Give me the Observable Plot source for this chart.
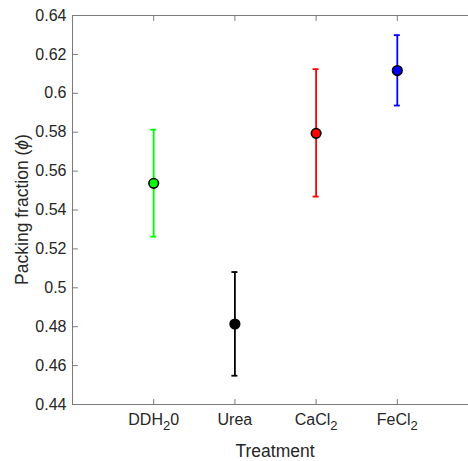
<!DOCTYPE html>
<html><head><meta charset="utf-8">
<script src="https://cdn.jsdelivr.net/npm/d3@7"></script>
<script src="https://cdn.jsdelivr.net/npm/@observablehq/plot@0.6"></script>
<style>
body{margin:0;background:#fff}
#chart{width:468px;height:461px;overflow:hidden}
#chart svg{overflow:hidden;display:block;max-width:none}
</style>
</head><body><div id="chart"></div>
<script>
// Data
const treatments = ["DDH20", "Urea", "CaCl2", "FeCl2"];
const labelBase = ["DDH", "Urea", "CaCl", "FeCl"];
const labelSub  = ["2", "", "2", "2"];
const labelTail = ["0", "", "", ""];
const means  = [0.5537, 0.4814, 0.5794, 0.6117];
const lower  = [0.5263, 0.4548, 0.5469, 0.5937];
const upper  = [0.5813, 0.5081, 0.6124, 0.6299];
const colors = ["#00ff00", "#000000", "#ff0000", "#0000ff"];
const yTicks = [0.44, 0.46, 0.48, 0.5, 0.52, 0.54, 0.56, 0.58, 0.6, 0.62, 0.64];
const yTickLabels = ["0.44","0.46","0.48","0.5","0.52","0.54","0.56","0.58","0.6","0.62","0.64"];

const data = treatments.map((t, i) => ({t, mean: means[i], lo: lower[i], hi: upper[i], color: colors[i]}));
const axisColor = "#7a7a7a";
const textColor = "#262626";
const tickShape = {draw(context, l) { context.moveTo(0, 0); context.lineTo(0, -l); }};

const plot = Plot.plot({
  width: 478, height: 461,
  marginLeft: 72, marginRight: 0, marginTop: 15, marginBottom: 57,
  style: {fontFamily: "'Liberation Sans', Arial, sans-serif", fontSize: "16px", color: textColor, background: "#fff"},
  x: {type: "band", domain: treatments, round: false, paddingInner: 0.926, paddingOuter: 0.963, label: null},
  y: {domain: [0.44, 0.64], label: null},
  marks: [
    Plot.frame({anchor: "left", stroke: axisColor, strokeWidth: 1}),
    Plot.frame({anchor: "top", stroke: axisColor, strokeWidth: 1}),
    Plot.frame({anchor: "bottom", stroke: axisColor, strokeWidth: 1}),
    // inward ticks
    Plot.vector(yTicks, {y: d => d, frameAnchor: "left", length: 5, rotate: 90, anchor: "start", shape: tickShape, stroke: axisColor, strokeWidth: 1}),
    Plot.vector(treatments, {x: d => d, frameAnchor: "bottom", length: 5, rotate: 0, anchor: "start", shape: tickShape, stroke: axisColor, strokeWidth: 1}),
    Plot.vector(treatments, {x: d => d, frameAnchor: "top", length: 5, rotate: 180, anchor: "start", shape: tickShape, stroke: axisColor, strokeWidth: 1}),
    // tick labels
    Plot.axisY(yTicks, {anchor: "left", tickSize: 0, tickPadding: 6, fill: textColor,
      tickFormat: d => yTickLabels[yTicks.indexOf(d)], label: null}),
    Plot.axisX({anchor: "bottom", tickSize: 0, tickPadding: 9, fill: textColor, label: null}),
    // error bars and means
    Plot.ruleX(data, {x: "t", y1: "lo", y2: "hi", stroke: "color", strokeWidth: 1.8}),
    Plot.tickY(data, {x: "t", y: "lo", stroke: "color", strokeWidth: 1.8}),
    Plot.tickY(data, {x: "t", y: "hi", stroke: "color", strokeWidth: 1.8}),
    Plot.dot(data, {x: "t", y: "mean", fill: "color", stroke: "#000", strokeWidth: 1.6, r: 4.8})
  ]
});

document.getElementById("chart").appendChild(plot);

// Subscripted tick labels
const svg = d3.select(plot);
svg.selectAll('g[aria-label="x-axis tick label"] text').each(function() {
  const el = d3.select(this);
  const idx = treatments.indexOf(el.text());
  if (idx < 0) return;
  el.text(null);
  el.append("tspan").text(labelBase[idx]);
  if (labelSub[idx]) el.append("tspan").attr("baseline-shift", "-35%").attr("font-size", "13px").text(labelSub[idx]);
  if (labelTail[idx]) el.append("tspan").text(labelTail[idx]);
});

// Axis titles
const xMid = (72 + 478) / 2;
svg.append("text")
  .attr("x", xMid).attr("y", 457)
  .attr("text-anchor", "middle")
  .attr("font-size", "17.5px").attr("fill", textColor)
  .text("Treatment");
const yl = svg.append("text")
  .attr("transform", `translate(28,${(15 + 404) / 2}) rotate(-90)`)
  .attr("text-anchor", "middle")
  .attr("font-size", "17.5px").attr("fill", textColor);
yl.append("tspan").text("Packing fraction (");
yl.append("tspan").attr("font-style", "italic").text("ϕ");
yl.append("tspan").text(")");
</script>
</body></html>
